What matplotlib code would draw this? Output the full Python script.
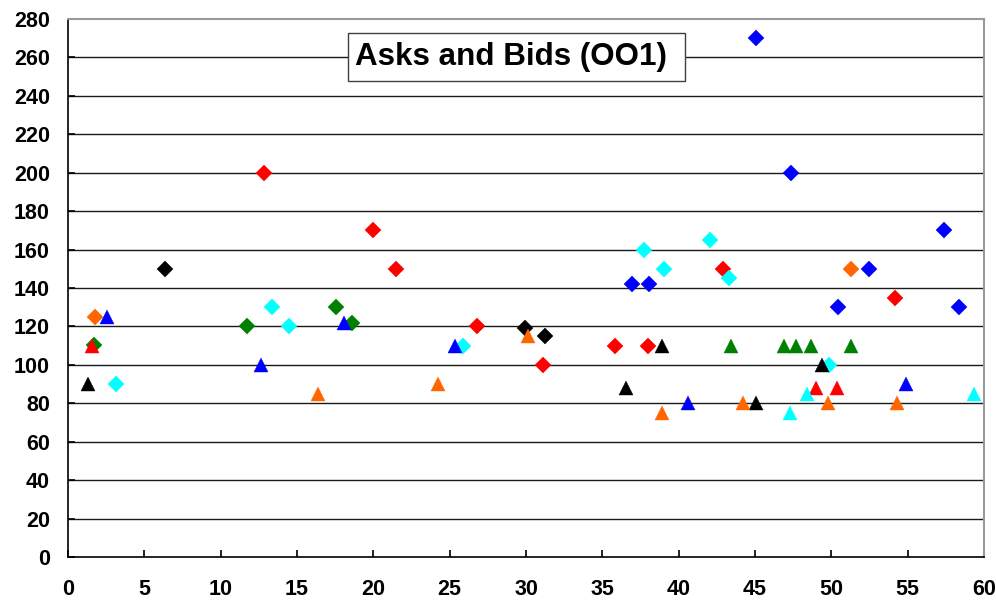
import matplotlib
matplotlib.use("Agg")
import matplotlib.pyplot as plt
from matplotlib.patches import Rectangle

plt.rcParams['font.family'] = ['Liberation Sans', 'DejaVu Sans']

title = "Asks and Bids (OO1)"

# Asks (diamonds)
ask_red_x = [12.85, 19.97, 21.48, 26.8, 31.1, 35.85, 38.0, 42.9, 54.15]
ask_red_y = [200, 170, 150, 120, 100, 110, 110, 150, 135]
ask_blue_x = [36.95, 38.05, 45.05, 47.35, 50.45, 52.45, 57.4, 58.35]
ask_blue_y = [142, 142, 270, 200, 130, 150, 170, 130]
ask_black_x = [6.35, 29.95, 31.25]
ask_black_y = [150, 119, 115]
ask_cyan_x = [3.15, 13.35, 14.45, 25.9, 37.7, 39.05, 42.05, 43.3, 49.85]
ask_cyan_y = [90, 130, 120, 110, 160, 150, 165, 145, 100]
ask_green_x = [1.7, 11.75, 17.55, 18.6]
ask_green_y = [110.5, 120, 130, 122]
ask_orange_x = [1.75, 51.3]
ask_orange_y = [125, 150]

# Bids (triangles)
bid_black_x = [1.3, 36.55, 38.9, 45.05, 49.4]
bid_black_y = [90, 88, 110, 80, 100]
bid_red_x = [1.55, 49.0, 50.4]
bid_red_y = [110, 88, 88]
bid_blue_x = [2.55, 12.65, 18.1, 25.35, 40.6, 54.9]
bid_blue_y = [125, 100, 122, 110, 80, 90]
bid_orange_x = [16.4, 24.25, 30.1, 38.9, 44.2, 49.8, 54.3]
bid_orange_y = [85, 90, 115, 75, 80, 80, 80]
bid_cyan_x = [47.3, 48.4, 59.35]
bid_cyan_y = [75, 85, 85]
bid_green_x = [43.4, 46.9, 47.7, 48.7, 51.3]
bid_green_y = [110, 110, 110, 110, 110]

x_ticks = list(range(0, 61, 5))
y_ticks = list(range(0, 281, 20))

RED, BLUE, BLACK, CYAN, GREEN, ORANGE = '#FF0000', '#0000FF', '#000000', '#00FFFF', '#008000', '#FF6600'

fig = plt.figure(figsize=(9.96, 6.04), dpi=100)
ax = fig.add_axes([68/996, 1-557/604, (984-68)/996, (557-19)/604])

for y in y_ticks[1:-1]:
    ax.axhline(y, color='#1a1a1a', lw=1.0, zorder=1)

asks = [(ask_red_x, ask_red_y, RED), (ask_blue_x, ask_blue_y, BLUE),
        (ask_black_x, ask_black_y, BLACK), (ask_cyan_x, ask_cyan_y, CYAN),
        (ask_green_x, ask_green_y, GREEN), (ask_orange_x, ask_orange_y, ORANGE)]
bids = [(bid_black_x, bid_black_y, BLACK), (bid_red_x, bid_red_y, RED),
        (bid_blue_x, bid_blue_y, BLUE), (bid_orange_x, bid_orange_y, ORANGE),
        (bid_cyan_x, bid_cyan_y, CYAN), (bid_green_x, bid_green_y, GREEN)]

for xs, ys, c in asks:
    ax.plot(xs, ys, linestyle='none', marker='D', markersize=8.0,
            markerfacecolor=c, markeredgecolor=c, markeredgewidth=0.3, zorder=3)
for xs, ys, c in bids:
    ax.plot(xs, ys, linestyle='none', marker='^', markersize=10.2,
            markerfacecolor=c, markeredgecolor=c, markeredgewidth=0.3, zorder=4)

ax.set_xlim(0, 60)
ax.set_ylim(0, 280)
ax.set_xticks(x_ticks)
ax.set_yticks(y_ticks)
ax.tick_params(axis='both', direction='in', length=5, width=1.2, color='black',
               labelsize=15.5)
ax.tick_params(axis='y', pad=13)
ax.tick_params(axis='x', pad=16)
for lab in ax.get_xticklabels() + ax.get_yticklabels():
    lab.set_fontweight('bold')

ax.spines['left'].set_color('black')
ax.spines['bottom'].set_color('black')
ax.spines['left'].set_linewidth(1.2)
ax.spines['bottom'].set_linewidth(1.2)
ax.spines['top'].set_color('#999999')
ax.spines['right'].set_color('#999999')
ax.spines['top'].set_linewidth(1.5)
ax.spines['right'].set_linewidth(1.5)

# Title box
box = Rectangle((348/996, 1-81/604), (685-348)/996, (81-33)/604,
                transform=fig.transFigure, facecolor='white', edgecolor='#404040',
                lw=1.0, zorder=10)
fig.patches.append(box)
fig.text(355/996, 1-57.5/604, title, fontsize=22.6, fontweight='bold',
         ha='left', va='center', zorder=11)

fig.savefig('out.png', dpi=100)
